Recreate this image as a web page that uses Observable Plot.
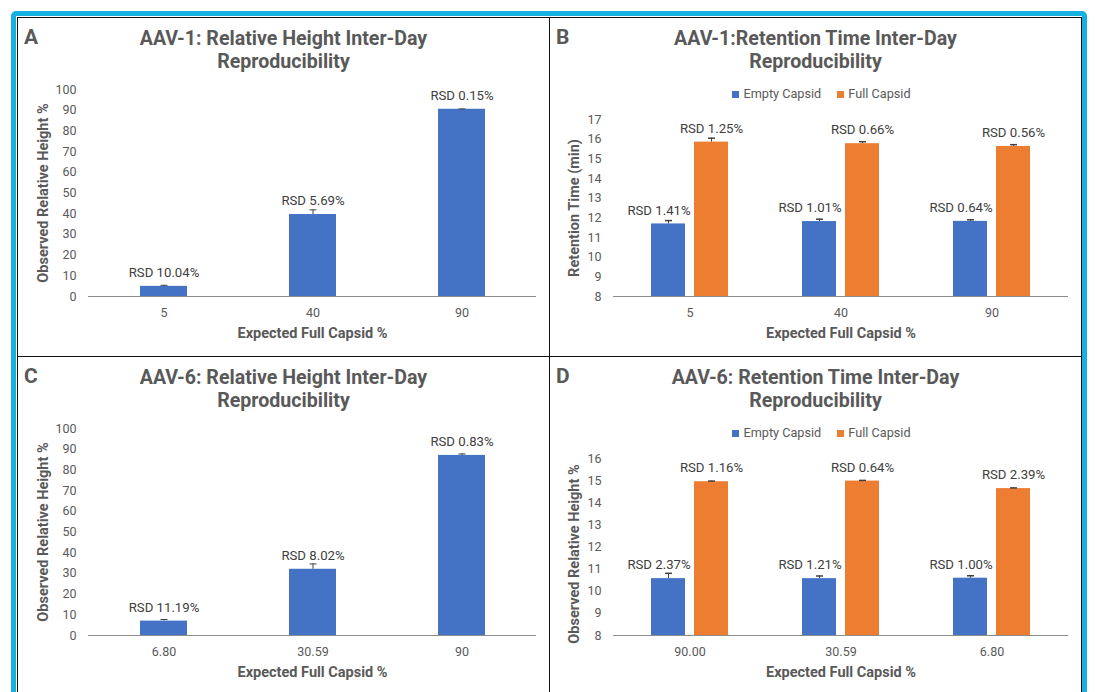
<!DOCTYPE html>
<html><head><meta charset="utf-8">
<script src="https://cdn.jsdelivr.net/npm/d3@7"></script>
<script src="https://cdn.jsdelivr.net/npm/@observablehq/plot@0.6"></script>
<style>
body{margin:0;background:#fff;font-family:Roboto, sans-serif;width:1095px;height:692px;overflow:hidden;position:relative;}
#cyan{position:absolute;left:11px;top:11px;width:1076px;height:720px;border:5px solid #17b1e1;border-radius:5px;box-sizing:border-box;}
.panel{position:absolute;width:533px;height:340px;}
.panel .bd{position:absolute;left:0;top:0;right:0;bottom:0;border:1px solid #111;box-sizing:border-box;}
.letter{position:absolute;left:7px;top:10px;font:bold 21px/21px Roboto;color:#595959;}
.title{position:absolute;left:0;top:11px;width:533px;text-align:center;font:bold 19.6px/22.5px Roboto;color:#595959;}
.legend{position:absolute;left:6px;top:70px;width:533px;text-align:center;font:12.7px/14px Roboto;color:#595959;white-space:nowrap;}
.legend .key{display:inline-block;width:7px;height:7px;margin-right:4px;}
.legend .item{margin:0 8px;}
.plot{position:absolute;left:0;}
</style>
</head><body>
<div id="cyan"></div>
<script>
// ---------- data ----------
const seriesNames = ["Empty Capsid", "Full Capsid"];
const xAxisTitle = "Expected Full Capsid %";

// Panel A
const aTitle = ["AAV-1: Relative Height Inter-Day", "Reproducibility"];
const aCategories = ["5", "40", "90"];
const aValues = [4.9, 39.6, 90.45];
const aErrors = [0.5, 2.26, 0.15];
const aLabels = ["RSD 10.04%", "RSD 5.69%", "RSD 0.15%"];
const aTicks = [0, 10, 20, 30, 40, 50, 60, 70, 80, 90, 100];
const aYTitle = "Observed Relative Height %";

// Panel B
const bTitle = ["AAV-1:Retention Time Inter-Day", "Reproducibility"];
const bCategories = ["5", "40", "90"];
const bEmpty = [11.69, 11.81, 11.82];
const bFull = [15.85, 15.77, 15.63];
const bEmptyErr = [0.17, 0.12, 0.08];
const bFullErr = [0.2, 0.1, 0.09];
const bEmptyLabels = ["RSD 1.41%", "RSD 1.01%", "RSD 0.64%"];
const bFullLabels = ["RSD 1.25%", "RSD 0.66%", "RSD 0.56%"];
const bTicks = [8, 9, 10, 11, 12, 13, 14, 15, 16, 17];
const bYTitle = "Retention Time (min)";

// Panel C
const cTitle = ["AAV-6: Relative Height Inter-Day", "Reproducibility"];
const cCategories = ["6.80", "30.59", "90"];
const cValues = [6.95, 32.0, 87.0];
const cErrors = [0.78, 2.57, 0.72];
const cLabels = ["RSD 11.19%", "RSD 8.02%", "RSD 0.83%"];
const cTicks = [0, 10, 20, 30, 40, 50, 60, 70, 80, 90, 100];
const cYTitle = "Observed Relative Height %";

// Panel D
const dTitle = ["AAV-6: Retention Time Inter-Day", "Reproducibility"];
const dCategories = ["90.00", "30.59", "6.80"];
const dEmpty = [10.57, 10.57, 10.59];
const dFull = [14.95, 14.98, 14.64];
const dEmptyErr = [0.24, 0.12, 0.11];
const dFullErr = [0.03, 0.03, 0.03];
const dEmptyLabels = ["RSD 2.37%", "RSD 1.21%", "RSD 1.00%"];
const dFullLabels = ["RSD 1.16%", "RSD 0.64%", "RSD 2.39%"];
const dTicks = [8, 9, 10, 11, 12, 13, 14, 15, 16];
const dYTitle = "Observed Relative Height %";

// ---------- style ----------
const BLUE = "#4472C4", ORANGE = "#ED7D31";
const colors = [BLUE, ORANGE];
const TXT = "#595959", LBL = "#404040", AX = "#8c8c8c", ERR = "#404040";
const capSymbol = {draw(ctx) { ctx.moveTo(-3.5, 0); ctx.lineTo(3.5, 0); }};
const baseStyle = {fontFamily: "Roboto", fontSize: "12.5px", color: TXT, background: "transparent", overflow: "visible"};

function axisMarks(ticks, yTitle, dxY, dyY) {
  return [
    Plot.ruleY([ticks[0]], {stroke: AX, strokeWidth: 1}),
    Plot.axisY({ticks, tickSize: 0, tickPadding: 12, line: true, stroke: AX, fill: TXT, label: null}),
    Plot.axisX({tickSize: 0, tickPadding: 12, label: null, fill: TXT}),
    Plot.text([yTitle], {text: d => d, frameAnchor: "left", textAnchor: "middle", lineAnchor: "middle", dx: dxY, dy: dyY, rotate: -90, fontWeight: "bold", fontSize: 14.5, fill: TXT}),
    Plot.text([xAxisTitle], {text: d => d, frameAnchor: "bottom", textAnchor: "middle", lineAnchor: "middle", dy: 37, fontWeight: "bold", fontSize: 14.5, fill: TXT})
  ];
}

function singlePlot(cats, vals, errs, labels, ticks, yTitle, dyY) {
  const y0 = ticks[0];
  const data = cats.map((c, i) => ({cat: c, v: vals[i], e: errs[i], lab: labels[i]}));
  return Plot.plot({
    width: 533, height: 279, marginTop: 12, marginBottom: 60, marginLeft: 71, marginRight: 14,
    style: baseStyle,
    x: {type: "band", domain: cats, paddingInner: 0.687, paddingOuter: 0.3435},
    y: {domain: [ticks[0], ticks[ticks.length - 1]]},
    marks: [
      Plot.barY(data, {x: "cat", y1: () => y0, y2: "v", fill: BLUE}),
      Plot.ruleX(data, {x: "cat", y1: "v", y2: d => d.v + d.e, stroke: ERR, strokeWidth: 1}),
      Plot.dot(data, {x: "cat", y: d => d.v + d.e, symbol: capSymbol, stroke: ERR, fill: "none", strokeWidth: 1}),
      Plot.text(data, {x: "cat", y: "v", text: "lab", dy: -13.5, fill: LBL, fontSize: 13.2}),
      ...axisMarks(ticks, yTitle, -45.4, dyY)
    ]
  });
}

function groupPlot(cats, empty, full, eErr, fErr, eLab, fLab, ticks, yTitle, dyY) {
  const y0 = ticks[0];
  const dE = cats.map((c, i) => ({cat: c, v: empty[i], e: eErr[i], lab: eLab[i]}));
  const dF = cats.map((c, i) => ({cat: c, v: full[i], e: fErr[i], lab: fLab[i]}));
  const off = 21.5;
  return Plot.plot({
    width: 533, height: 249, marginTop: 12, marginBottom: 60, marginLeft: 64, marginRight: 14,
    style: baseStyle,
    x: {type: "band", domain: cats, paddingInner: 0.4925, paddingOuter: 0.24625},
    y: {domain: [ticks[0], ticks[ticks.length - 1]]},
    marks: [
      Plot.barY(dE, {x: "cat", y1: () => y0, y2: "v", fill: colors[0], insetRight: 43}),
      Plot.barY(dF, {x: "cat", y1: () => y0, y2: "v", fill: colors[1], insetLeft: 43}),
      Plot.ruleX(dE, {x: "cat", y1: "v", y2: d => d.v + d.e, dx: -off, stroke: ERR}),
      Plot.ruleX(dF, {x: "cat", y1: "v", y2: d => d.v + d.e, dx: off, stroke: ERR}),
      Plot.dot(dE, {x: "cat", y: d => d.v + d.e, dx: -off, symbol: capSymbol, stroke: ERR, fill: "none"}),
      Plot.dot(dF, {x: "cat", y: d => d.v + d.e, dx: off, symbol: capSymbol, stroke: ERR, fill: "none"}),
      Plot.text(dE, {x: "cat", y: "v", text: "lab", dx: -off - 9.5, dy: -13.5, fill: LBL, fontSize: 13.2}),
      Plot.text(dF, {x: "cat", y: "v", text: "lab", dx: off, dy: -13.5, fill: LBL, fontSize: 13.2}),
      ...axisMarks(ticks, yTitle, -38.7, dyY)
    ]
  });
}

function makePanel(left, top, letter, title, chart, legend) {
  const p = document.createElement("div");
  p.className = "panel";
  p.style.left = left + "px"; p.style.top = top + "px";
  const bd = document.createElement("div"); bd.className = "bd"; p.appendChild(bd);
  const l = document.createElement("div"); l.className = "letter"; l.textContent = letter; p.appendChild(l);
  const t = document.createElement("div"); t.className = "title"; t.innerHTML = title.join("<br>"); p.appendChild(t);
  if (legend) {
    const lg = document.createElement("div"); lg.className = "legend";
    seriesNames.forEach((n, i) => {
      const it = document.createElement("span"); it.className = "item";
      const k = document.createElement("span"); k.className = "key"; k.style.background = colors[i];
      it.appendChild(k); it.appendChild(document.createTextNode(n));
      lg.appendChild(it);
    });
    p.appendChild(lg);
  }
  chart.classList.add("plot");
  chart.style.top = (legend ? 90 : 60) + "px";
  p.appendChild(chart);
  document.body.appendChild(p);
}

makePanel(17, 17, "A", aTitle, singlePlot(aCategories, aValues, aErrors, aLabels, aTicks, aYTitle, 0), false);
makePanel(549, 17, "B", bTitle, groupPlot(bCategories, bEmpty, bFull, bEmptyErr, bFullErr, bEmptyLabels, bFullLabels, bTicks, bYTitle, 0), true);
makePanel(17, 356, "C", cTitle, singlePlot(cCategories, cValues, cErrors, cLabels, cTicks, cYTitle, 0), false);
makePanel(549, 356, "D", dTitle, groupPlot(dCategories, dEmpty, dFull, dEmptyErr, dFullErr, dEmptyLabels, dFullLabels, dTicks, dYTitle, 7), true);
</script>
</body></html>
